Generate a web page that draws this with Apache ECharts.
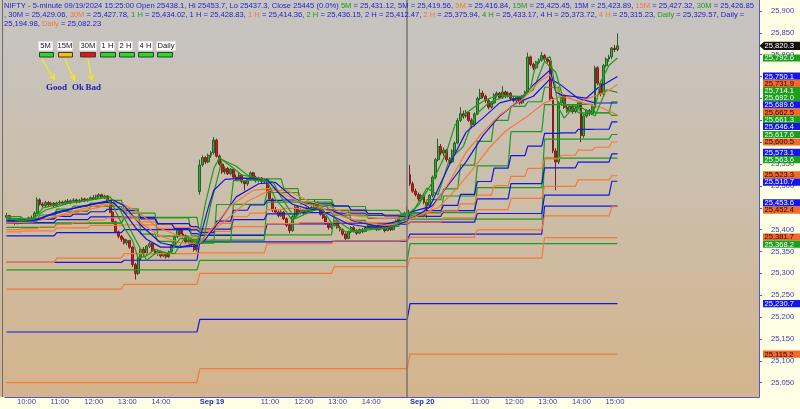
<!DOCTYPE html>
<html><head><meta charset="utf-8">
<script src="https://cdn.jsdelivr.net/npm/echarts@6/dist/echarts.min.js"></script>
<style>
html,body{margin:0;padding:0;background:#ffffe6;}
#bg{position:absolute;left:0;top:0;width:759px;height:397px;background:linear-gradient(#c6c4c2 0%,#cbbfac 45%,#d4b48c 100%);}
#c{position:absolute;left:0;top:0;width:800px;height:409px;}
</style></head><body>
<div id="bg"></div><div id="c"></div>
<script>
// ---------- DATA ----------
const opens=[25428,25432,25420,25418,25415,25420,25424,25417,25422,25427,25425,25438,25468,25458,25455,25462,25457,25460,25455,25461,25463,25460,25465,25462,25466,25468,25463,25467,25470,25466,25470,25473,25470,25477,25480,25474,25477,25465,25440,25418,25395,25385,25378,25370,25375,25360,25320,25300,25335,25355,25345,25362,25368,25352,25345,25350,25340,25345,25338,25350,25365,25384,25400,25390,25386,25372,25376,25366,25354,
25487,25548,25565,25555,25570,25576,25605,25568,25550,25532,25540,25528,25538,25520,25515,25525,25510,25505,25515,25530,25520,25512,25518,25510,25514,25490,25470,25445,25440,25432,25440,25425,25410,25398,25430,25452,25440,25445,25438,25448,25442,25450,25462,25448,25435,25428,25415,25405,25410,25420,25405,25400,25390,25380,25395,25405,25398,25392,25400,25396,25405,25410,25402,25408,25400,25410,25404,25398,25408,25400,25415,25420,25428,25435,25438.1,
25526,25505,25488,25480,25470,25478,25462,25455,25478,25520,25560,25590,25575,25582,25560,25555,25580,25598,25650,25665,25660,25668,25650,25640,25665,25700,25712,25705,25695,25680,25690,25708,25712,25702,25715,25705,25712,25700,25695,25702,25690,25705,25715,25795,25778,25770,25782,25788,25798,25790,25785,25700,25580,25555,25690,25705,25680,25672,25682,25670,25678,25690,25615,25660,25672,25665,25680,25770,25735,25710,25775,25790,25795,25815,25812];
const highs=[25438,25434,25425,25424,25422,25428,25427,25425,25430,25432,25442,25474,25472,25463,25466,25465,25464,25463,25464,25467,25466,25468,25470,25469,25472,25471,25470,25474,25473,25472,25476,25479,25480,25483,25482,25480,25479,25467,25442,25420,25398,25388,25382,25378,25377,25362,25324,25338,25358,25360,25365,25372,25370,25356,25354,25352,25348,25347,25352,25367,25386,25405,25404,25402,25389,25380,25379,25370,25376,
25560,25570,25568,25574,25580,25612,25608,25572,25553,25545,25543,25541,25540,25526,25530,25527,25513,25518,25533,25532,25523,25521,25520,25517,25516,25493,25473,25452,25444,25445,25443,25428,25414,25434,25456,25455,25449,25448,25451,25452,25454,25470,25465,25451,25438,25431,25418,25414,25422,25422,25409,25403,25393,25398,25408,25408,25401,25403,25404,25408,25413,25412,25411,25410,25413,25413,25406,25410,25410,25418,25423,25430,25438,25441,25453.7,
25548,25510,25494,25485,25482,25480,25466,25481,25524,25564,25608,25596,25588,25585,25566,25584,25602,25655,25680,25672,25674,25671,25655,25668,25704,25722,25718,25709,25699,25694,25712,25716,25715,25728,25718,25716,25715,25704,25706,25705,25708,25718,25805,25798,25782,25786,25792,25806,25802,25794,25788,25704,25586,25694,25712,25710,25686,25686,25685,25682,25695,25694,25664,25676,25676,25684,25775,25774,25740,25779,25794,25800,25818,25822,25849];
const lows=[25424,25417,25414,25411,25412,25416,25414,25414,25419,25420,25422,25436,25455,25451,25452,25453,25454,25452,25453,25457,25456,25457,25459,25458,25462,25460,25461,25464,25463,25464,25467,25469,25468,25474,25471,25470,25462,25438,25414,25392,25380,25372,25366,25365,25356,25315,25286,25296,25330,25340,25342,25358,25348,25342,25340,25336,25337,25334,25335,25347,25362,25380,25386,25382,25368,25368,25362,25350,25350,
25480,25544,25550,25552,25564,25572,25565,25546,25528,25527,25525,25524,25517,25512,25512,25506,25490,25500,25512,25516,25508,25508,25506,25506,25486,25466,25440,25436,25428,25429,25422,25406,25392,25395,25427,25436,25435,25433,25435,25438,25440,25447,25445,25432,25424,25411,25400,25401,25407,25402,25396,25386,25376,25378,25392,25394,25388,25390,25392,25394,25402,25399,25400,25397,25398,25401,25394,25396,25397,25398,25412,25417,25425,25431,25437.3,
25500,25484,25476,25465,25465,25458,25427,25450,25474,25515,25556,25570,25568,25555,25548,25552,25576,25595,25646,25654,25656,25646,25632,25636,25662,25696,25700,25690,25675,25677,25687,25702,25698,25699,25701,25702,25696,25691,25692,25686,25687,25702,25712,25774,25765,25767,25778,25784,25786,25780,25695,25575,25490,25550,25684,25676,25667,25668,25665,25666,25675,25600,25610,25656,25660,25662,25676,25730,25705,25706,25771,25784,25790,25806,25808];
const closes=[25432,25420,25418,25415,25420,25424,25417,25422,25427,25425,25438,25468,25458,25455,25462,25457,25460,25455,25461,25463,25460,25465,25462,25466,25468,25463,25467,25470,25466,25470,25473,25470,25477,25480,25474,25477,25465,25440,25418,25395,25385,25378,25370,25375,25360,25320,25300,25335,25355,25345,25362,25368,25352,25345,25350,25340,25345,25338,25350,25365,25384,25400,25390,25386,25372,25376,25366,25354,25372,
25548,25565,25555,25570,25576,25605,25568,25550,25532,25540,25528,25538,25520,25515,25525,25510,25505,25515,25530,25520,25512,25518,25510,25514,25490,25470,25445,25440,25432,25440,25425,25410,25398,25430,25452,25440,25445,25438,25448,25442,25450,25462,25448,25435,25428,25415,25405,25410,25420,25405,25400,25390,25380,25395,25405,25398,25392,25400,25396,25405,25410,25402,25408,25400,25410,25404,25398,25408,25400,25415,25420,25428,25435,25438,25445,
25505,25488,25480,25470,25478,25462,25455,25478,25520,25560,25590,25575,25582,25560,25555,25580,25598,25650,25665,25660,25668,25650,25640,25665,25700,25712,25705,25695,25680,25690,25708,25712,25702,25715,25705,25712,25700,25695,25702,25690,25705,25715,25795,25778,25770,25782,25788,25798,25790,25785,25700,25580,25555,25690,25705,25680,25672,25682,25670,25678,25690,25615,25660,25672,25665,25680,25770,25735,25710,25775,25790,25795,25815,25812,25820.3];

// 5-minute lines: points [bar, value]
const m5Green=[[0,25428],[5,25420],[10,25425],[13,25450],[20,25460],[30,25468],[35,25475],[38,25455],[41,25415],[45,25375],[47,25335],[50,25340],[53,25355],[58,25345],[62,25380],[66,25378],[68,25366],[69,25395],[71,25460],[74,25540],[76,25565],[79,25550],[84,25525],[90,25518],[93,25512],[96,25470],[100,25440],[102,25420],[105,25440],[110,25450],[113,25445],[116,25415],[121,25395],[125,25398],[130,25403],[135,25403],[139,25410],[143,25431.12],[144,25440],[147,25456],[152,25509],[157,25577],[160,25639],[164,25667],[168,25685],[171,25697],[176,25708],[184,25703],[187,25724],[189,25783],[194,25795],[197,25678],[199,25655],[203,25685],[206,25662],[210,25678],[212,25738],[215,25776],[218,25792.6]];
const m5Blue=[[0,25420],[10,25420],[15,25432],[25,25450],[35,25463],[38,25462],[42,25440],[46,25405],[50,25378],[55,25360],[62,25360],[68,25362],[69,25380],[72,25450],[74,25490],[78,25515],[85,25518],[93,25515],[97,25485],[102,25458],[108,25447],[112,25445],[116,25432],[122,25413],[130,25405],[138,25408],[143,25419.56],[144,25440],[151,25452],[158,25548],[164,25623],[170,25655],[176,25690],[184,25703],[188,25731],[194,25765],[196,25715],[198,25708],[207,25701],[211,25724],[218,25750.1]];
const m5Orange=[[0,25415],[10,25418],[20,25435],[30,25452],[37,25460],[42,25445],[48,25415],[55,25385],[62,25370],[68,25368],[69,25370],[75,25415],[80,25455],[88,25490],[95,25495],[100,25478],[106,25460],[112,25450],[118,25435],[125,25420],[135,25410],[143,25416.84],[144,25425],[151,25441],[158,25509],[164,25577],[170,25623],[176,25662],[184,25697],[190,25738],[194,25754],[197,25715],[204,25692],[214,25715],[218,25731.9]];
// 15-minute lines: points [bar, value]
const m15Green=[[0,25425],[8,25420],[14,25445],[22,25460],[30,25468],[37,25475],[41,25440],[45,25390],[50,25330],[54,25350],[60,25345],[64,25385],[68,25372],[70,25370],[73,25460],[77,25560],[82,25545],[88,25515],[95,25510],[98,25475],[103,25425],[108,25440],[114,25455],[118,25420],[124,25395],[130,25400],[136,25405],[143,25425.45],[145,25440],[150,25495],[154,25480],[158,25560],[163,25590],[167,25660],[172,25690],[178,25705],[184,25705],[188,25720],[192,25785],[196,25760],[200,25670],[205,25680],[210,25660],[214,25720],[218,25714.1]];
const m15Blue=[[0,25422],[10,25422],[18,25440],[28,25455],[38,25468],[42,25455],[48,25410],[55,25370],[62,25360],[68,25368],[70,25370],[76,25420],[82,25475],[90,25505],[96,25508],[102,25475],[108,25450],[116,25445],[124,25420],[132,25408],[143,25423.89],[146,25430],[152,25455],[158,25505],[164,25555],[170,25615],[176,25660],[182,25690],[188,25705],[194,25745],[198,25730],[204,25700],[210,25690],[218,25689.6]];
const m15Orange=[[0,25420],[12,25422],[22,25435],[32,25450],[40,25462],[46,25445],[54,25405],[62,25385],[68,25380],[70,25380],[78,25420],[86,25465],[94,25490],[100,25490],[108,25465],[116,25450],[124,25432],[134,25425],[143,25427.32],[146,25432],[154,25450],[160,25490],[166,25535],[172,25585],[178,25625],[186,25660],[192,25690],[198,25705],[206,25690],[212,25680],[218,25662.5]];
// higher time-frame lines: one value per period (Sep 18 partial, Sep 19, Sep 20)
const m30Green=[25425,25424,25433.5,25447,25454,25460.5,25467,25447.5,25390,25373,25362,25373.5, 25369,25457.5,25512,25513.5,25516,25494,25458.5,25455,25443.5,25421,25410,25407.5,25426.85, 25433.4,25468.7,25493.4,25547.7,25601.8,25649.9,25682,25692.5,25725.7,25685.4,25686.7,25667.3,25692.0];
const m30Blue=[25420,25420.5,25424.3,25430.5,25435.7,25441,25446.6,25443.4,25424.6,25412.9,25402.4,25399.4, 25393.4,25419.3,25444.4,25456.4,25466.9,25467.8,25460.2,25458.8,25454.2,25444.8,25437,25431.6,25429.06, 25430.9,25443.3,25455.6,25480.7,25510.1,25540.7,25569.4,25590.9,25620.1,25621.5,25629.3,25629.6,25646.4];
const m30Orange=[25400,25402.3,25406.4,25411.9,25416.8,25421.8,25427,25427.1,25417.7,25411.5,25405.5,25403.4, 25399.5,25414.2,25429.5,25438,25446,25448.6,25446,25446.6,25445.1,25440.5,25436.4,25433.3,25427.78, 25429,25436.5,25443.2,25459.1,25478.8,25500.7,25521.8,25540,25561.9,25570.2,25581.9,25588.5,25600.5];
const h1Green=[25430,25425,25442,25453,25438,25385,25378, 25371,25458,25485,25469,25453,25426,25434.02, 25437,25477,25546,25624,25686,25667,25661.3];
const h1Blue=[25415,25416,25423,25429,25428,25414,25407, 25401,25423,25436,25439,25438,25433,25428.83, 25430.5,25443.5,25470.3,25505.2,25541.4,25554.5,25573.1];
const h1Orange=[25395,25397,25404,25410,25411,25403,25400, 25396,25407,25414,25416,25417,25416,25414.36, 25416.9,25426.9,25445.7,25471.4,25499,25513.9,25523.3];
const h2Green=[25405,25415,25427,25386, 25376,25463,25444,25436.15, 25439,25496,25607,25617.6];
const h2Blue=[25386,25393,25400,25391, 25387,25413,25415,25412.47, 25417,25437,25479,25510.7];
const h2Orange=[25325,25335,25345,25345, 25347,25368,25374,25375.94, 25382.5,25399.5,25431.4,25452.4];
const h4Green=[25415,25428, 25388,25433.17, 25424,25563.6];
const h4Blue=[25325,25330, 25372,25373.72, 25390,25453.6];
const h4Orange=[25264,25275, 25300,25315.23, 25335,25381.7];
const dGreen=[25308,25329.57,25368.2];
const dBlue=[25166,25194.98,25230.7];
const dOrange=[25050,25082.23,25115.2];

const yTickValues=[25050,25100,25150,25200,25250,25300,25350,25400,25450,25500,25550,25600,25650,25700,25750,25800,25850,25900];
const xTickBars=[3,15,27,39,51,69,90,102,114,126,144,165,177,189,201,213];
const xTickText=['10:00','11:00','12:00','13:00','14:00','Sep 19','11:00','12:00','13:00','14:00','Sep 20','11:00','12:00','13:00','14:00','15:00'];
const lastPrice=25820.3;
const cursorBar=143;

// ---------- STRUCTURE ----------
const SLOTS=269, dayStart=[-6,69,144], dayLen=75;
const cats=[];
for(let i=0;i<SLOTS;i++){
  let off; if(i<69) off=i+6; else if(i<144) off=i-69; else if(i<219) off=i-144; else {cats.push('');continue;}
  const m=555+off*5; cats.push(Math.floor(m/60)+':'+String(m%60).padStart(2,'0'));
}
function periodVerts(n,vals){
  const pts=[];let j=0;
  for(const s of dayStart){
    for(let k=0;k*n<dayLen;k++){
      let a=s+k*n,b=Math.min(s+(k+1)*n-1,s+dayLen-1);
      if(b<0)continue; a=Math.max(a,0);
      const v=vals[j++]; pts.push([a,v],[b,v]);
    }
  }
  return pts;
}
const G='#1e9a1e',B='#1515e0',O='#f57a38';
const candleData=opens.map((o,i)=>[o,closes[i],lows[i],highs[i]]);
const lineDefs=[
  [periodVerts(75,dOrange),O],[periodVerts(75,dBlue),B],[periodVerts(75,dGreen),G],
  [periodVerts(48,h4Orange),O],[periodVerts(48,h4Blue),B],[periodVerts(48,h4Green),G],
  [periodVerts(24,h2Orange),O],[periodVerts(24,h2Blue),B],[periodVerts(24,h2Green),G],
  [periodVerts(12,h1Orange),O],[periodVerts(12,h1Blue),B],[periodVerts(12,h1Green),G],
  [periodVerts(6,m30Orange),O],[periodVerts(6,m30Blue),B],[periodVerts(6,m30Green),G],
  [m15Orange,O],[m15Blue,B],[m15Green,G],
  [m5Orange,O],[m5Blue,B],[m5Green,G]
];
const series=[{
  type:'candlestick',data:candleData,barWidth:2.4,z:2,
  itemStyle:{color:'#2fae2f',color0:'#d81818',borderColor:'#2c5e2c',borderColor0:'#7a2020',borderWidth:1},
  markLine:{silent:true,symbol:'none',label:{show:false},animation:false,
    lineStyle:{color:'#777',width:1.5,type:'solid'},data:[{xAxis:cursorBar}]}
}];
lineDefs.forEach(([d,c])=>series.push({type:'line',data:d,symbol:'none',z:3,
  lineStyle:{color:c,width:1.2},itemStyle:{color:c},animation:false}));

const tickSet=new Set(xTickBars);
const fmt=v=>{const s=v.toFixed(0);return s.slice(0,s.length-3)+','+s.slice(-3);};
const F='Arial, "Liberation Sans", sans-serif';

const chart=echarts.init(document.getElementById('c'),null,{renderer:'canvas'});
const option={
  animation:false,
  grid:{left:5,right:41,top:0,bottom:12,show:false},
  xAxis:{type:'category',data:cats,boundaryGap:true,
    axisLine:{lineStyle:{color:'#5656c4',width:1}},
    axisTick:{interval:(i)=>tickSet.has(i),alignWithLabel:true,length:3,lineStyle:{color:'#5656c4'}},
    axisLabel:{interval:(i)=>tickSet.has(i),align:'left',margin:1,fontSize:7.6,fontFamily:F,color:'#3b3bb4',
      formatter:(v,i)=>{const t=xTickText[xTickBars.indexOf(i)]||'';return t.startsWith('Sep')?'{d|'+t+'}':' '+t;},
      rich:{d:{fontWeight:'bold',color:'#1f2fc0',fontSize:7.6,fontFamily:F}}},
    splitLine:{show:false}},
  yAxis:{type:'value',position:'right',min:25017.3,max:25925.2,
    axisLine:{show:true,lineStyle:{color:'#5656c4'}},
    axisTick:{show:true,customValues:yTickValues,length:3,lineStyle:{color:'#5656c4'}},
    axisLabel:{customValues:yTickValues,formatter:fmt,color:'#3b3bb4',fontSize:7.6,fontFamily:F,margin:12},
    splitLine:{show:false}},
  series
};
chart.setOption(option);

// ---------- graphics: header, legend, tags ----------
function rich(parts){return parts.map(p=>'{'+p[0]+'|'+p[1]+'}').join('');}
const richStyles={b:{fill:'#2222cc',fontSize:7.6,fontFamily:F},g:{fill:'#1e9a1e',fontSize:7.6,fontFamily:F},o:{fill:'#f07a3a',fontSize:7.6,fontFamily:F}};
const hdr1=rich([['b','NIFTY - 5-minute 09/19/2024 15:25:00 Open 25438.1, Hi 25453.7, Lo 25437.3, Close 25445 (0.0%) '],['g','5M'],['b',' = 25,431.12, 5M = 25,419.56, '],['o','5M'],['b',' = 25,416.84, '],['g','15M'],['b',' = 25,425.45, 15M = 25,423.89, '],['o','15M'],['b',' = 25,427.32, '],['g','30M'],['b',' = 25,426.85']]);
const hdr2=rich([['b',', 30M = 25,429.06, '],['o','30M'],['b',' = 25,427.78, '],['g','1 H'],['b',' = 25,434.02, 1 H = 25,428.83, '],['o','1 H'],['b',' = 25,414.36, '],['g','2 H'],['b',' = 25,436.15, 2 H = 25,412.47, '],['o','2 H'],['b',' = 25,375.94, '],['g','4 H'],['b',' = 25,433.17, 4 H = 25,373.72, '],['o','4 H'],['b',' = 25,315.23, '],['g','Daily'],['b',' = 25,329.57, Daily =']]);
const hdr3=rich([['b','25,194.98, '],['o','Daily'],['b',' = 25,082.23']]);
const els=[];
[[hdr1,6],[hdr2,15.3],[hdr3,24]].forEach(([t,y])=>els.push({type:'text',x:4,y:y,z:100,style:{text:t,rich:richStyles,verticalAlign:'middle',font:'7.6px '+F}}));
// left border
els.push({type:'line',z:100,shape:{x1:2.5,y1:0,x2:2.5,y2:397},style:{stroke:'#6c6c70',lineWidth:1}});
// legend
const legLabels=['5M','15M','30M','1 H','2 H','4 H','Daily'];
const legX=[[38.5,52.5],[57.5,72.5],[79.5,96.5],[100.5,114.5],[118.5,132.5],[138.5,152.5],[156.5,175.5]];
const legBox=[[39,53],[58,72],[80,95],[100,115],[119,134],[138,153],[157,172]];
const legCol=['#22dd22','#ffbf00','#ee1111','#22dd22','#22dd22','#22dd22','#22dd22'];
legLabels.forEach((l,i)=>{
  els.push({type:'rect',z:100,shape:{x:legX[i][0],y:41.5,width:legX[i][1]-legX[i][0],height:9},style:{fill:'#ffffff'}});
  els.push({type:'text',z:101,x:(legX[i][0]+legX[i][1])/2,y:46.3,style:{text:l,align:'center',verticalAlign:'middle',font:'7.6px '+F,fill:'#111'}});
  els.push({type:'rect',z:100,shape:{x:legBox[i][0]+0.5,y:52.5,width:legBox[i][1]-legBox[i][0],height:4.5},style:{fill:legCol[i],stroke:'#3a3a3a',lineWidth:1}});
});
function arrow(x1,y1,x2,y2){
  const a=Math.atan2(y2-y1,x2-x1),L=5,W=2.6,bx=x2-L*Math.cos(a),by=y2-L*Math.sin(a),px=-Math.sin(a)*W,py=Math.cos(a)*W;
  els.push({type:'line',z:100,shape:{x1,y1,x2,y2},style:{stroke:'#f2f200',lineWidth:1.1}});
  els.push({type:'polyline',z:100,shape:{points:[[bx+px,by+py],[x2,y2],[bx-px,by-py]]},style:{stroke:'#f2f200',lineWidth:1.1,fill:null}});
}
arrow(42,59,54.5,79.5);arrow(65,59,74.5,80);arrow(88,59,91.5,80);
[['Good',46],['Ok',72],['Bad',85.5]].forEach(([t,x])=>els.push({type:'text',z:100,x,y:87.5,style:{text:t,verticalAlign:'middle',font:'bold 9px "Liberation Serif", "DejaVu Serif", serif',fill:'#1c1cb4'}}));

// value tags on the right axis
const tagItems=[{v:lastPrice,bg:'#111111',fg:'#ffffff',price:true}];
const lastOf=(arr)=>Array.isArray(arr[arr.length-1])?arr[arr.length-1][1]:arr[arr.length-1];
[[m5Green,G],[m5Blue,B],[m5Orange,O],[m15Green,G],[m15Blue,B],[m15Orange,O],[m30Green,G],[m30Blue,B],[m30Orange,O],
 [h1Green,G],[h1Blue,B],[h1Orange,O],[h2Green,G],[h2Blue,B],[h2Orange,O],[h4Green,G],[h4Blue,B],[h4Orange,O],[dGreen,G],[dBlue,B],[dOrange,O]]
 .forEach(([a,c])=>tagItems.push({v:lastOf(a),bg:c===G?'#1e9e1e':c===B?'#1616ea':'#f26a2a',fg:c===O?'#1a0a00':'#f4fff4'}));
tagItems.forEach(t=>{t.y=chart.convertToPixel({yAxisIndex:0},t.v);t.p=t.y;});
tagItems.sort((a,b)=>a.y-b.y);
const TH=7.2;
for(let it=0;it<500;it++){let mv=false;
  for(let i=0;i<tagItems.length-1;i++){const d=tagItems[i+1].p-tagItems[i].p;
    if(d<TH-0.01){const s=(TH-d)/2;tagItems[i].p-=s;tagItems[i+1].p+=s;mv=true;}}
  if(!mv)break;}
tagItems.forEach(t=>{
  const p=t.p, txt=t.v.toFixed(1).replace(/^(\d\d)(\d\d\d)/,'$1,$2');
  if(t.price){
    els.push({type:'polygon',z:110,shape:{points:[[759.5,p],[764,p-TH/2-0.5],[800,p-TH/2-0.5],[800,p+TH/2+0.5],[764,p+TH/2+0.5]]},style:{fill:t.bg}});
  } else {
    els.push({type:'rect',z:110,shape:{x:763,y:p-TH/2,width:37,height:TH},style:{fill:t.bg}});
  }
  els.push({type:'text',z:111,x:764.5,y:p+0.3,style:{text:txt,verticalAlign:'middle',font:'7.6px '+F,fill:t.fg}});
});
chart.setOption({graphic:els});
</script>
</body></html>
